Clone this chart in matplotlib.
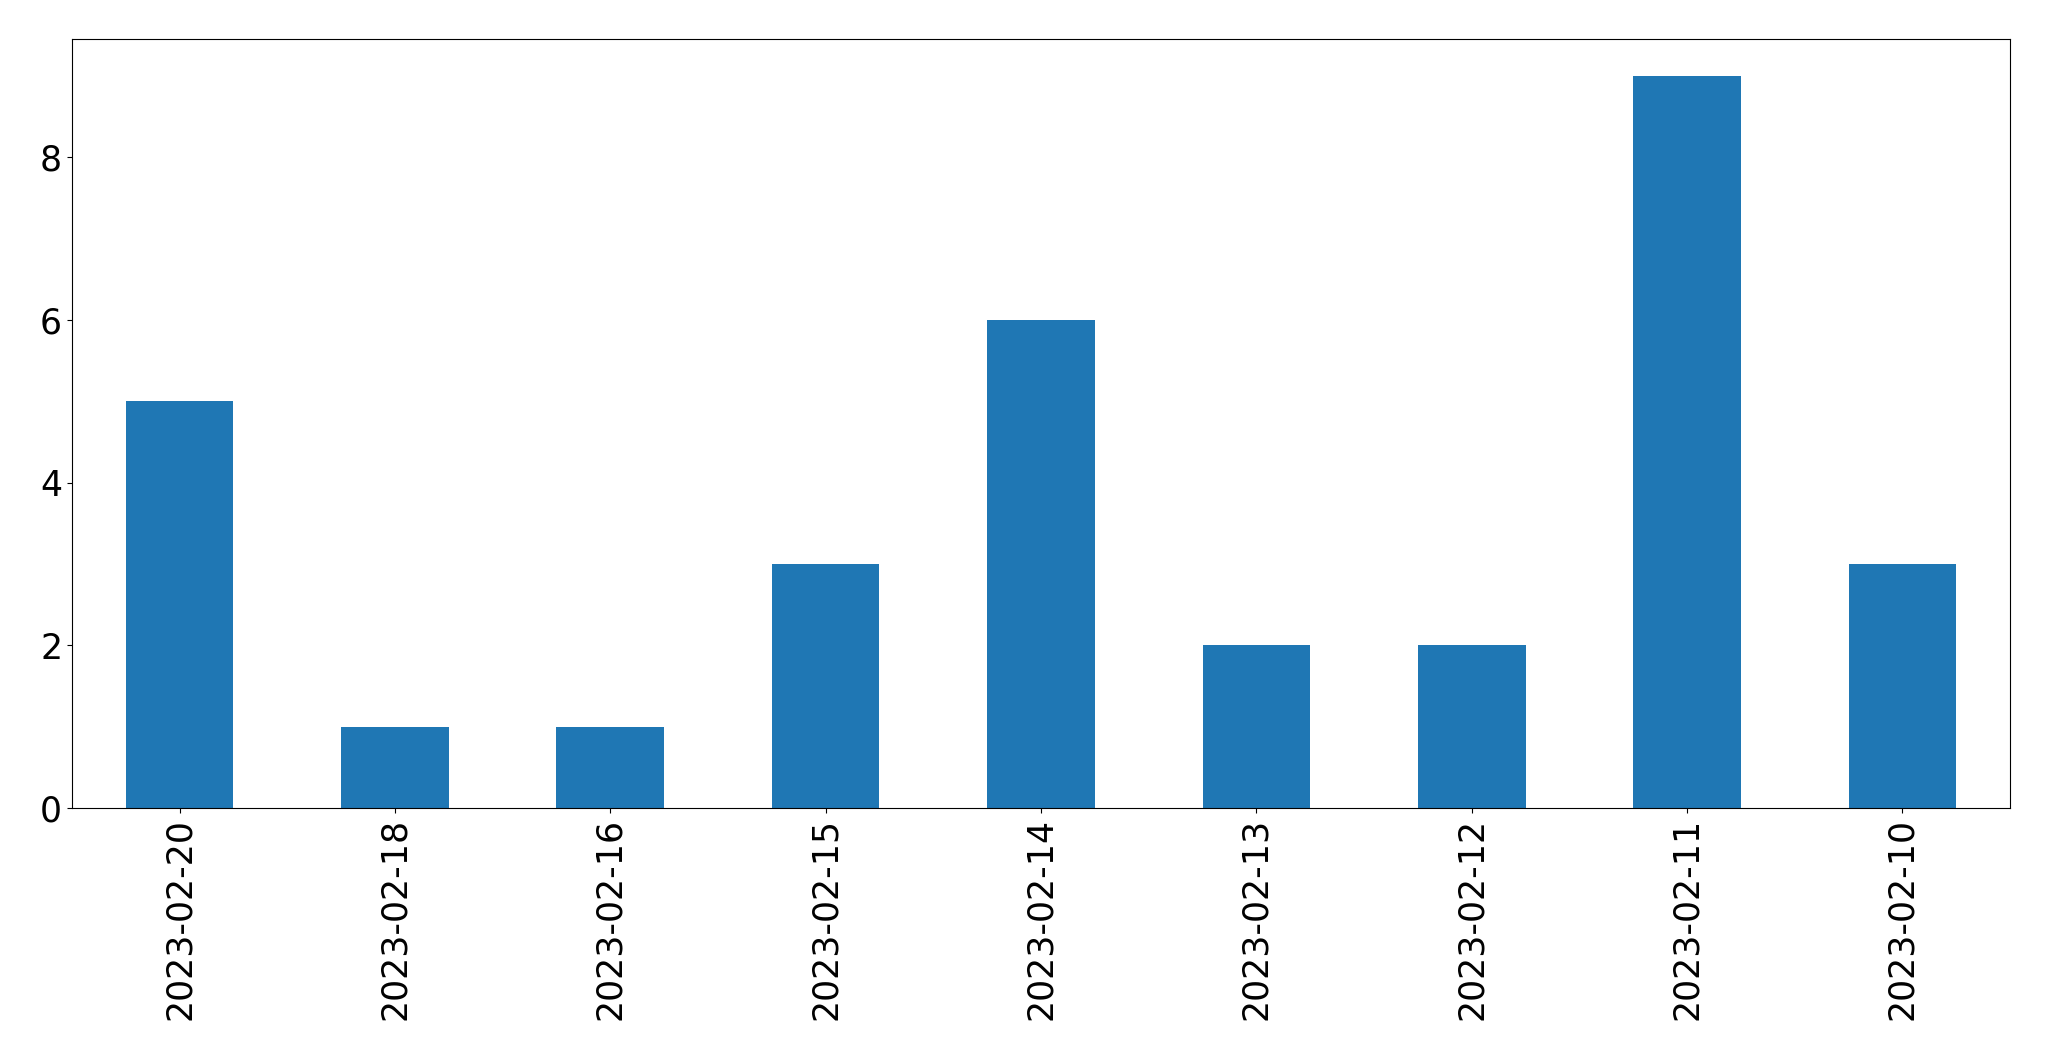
import pandas as pd
import matplotlib
matplotlib.use("Agg")
import matplotlib.pyplot as plt

dates = ['2023-02-20', '2023-02-18', '2023-02-16', '2023-02-15', '2023-02-14',
         '2023-02-13', '2023-02-12', '2023-02-11', '2023-02-10']
counts = [5, 1, 1, 3, 6, 2, 2, 9, 3]

s = pd.Series(counts, index=dates)

fig, ax = plt.subplots(figsize=(20.49, 10.61), dpi=100)
s.plot(kind='bar', ax=ax, color='#1f77b4', fontsize=25)
fig.subplots_adjust(left=0.0351, right=0.981, top=0.963, bottom=0.2385)
fig.savefig('out.png', dpi=100)
